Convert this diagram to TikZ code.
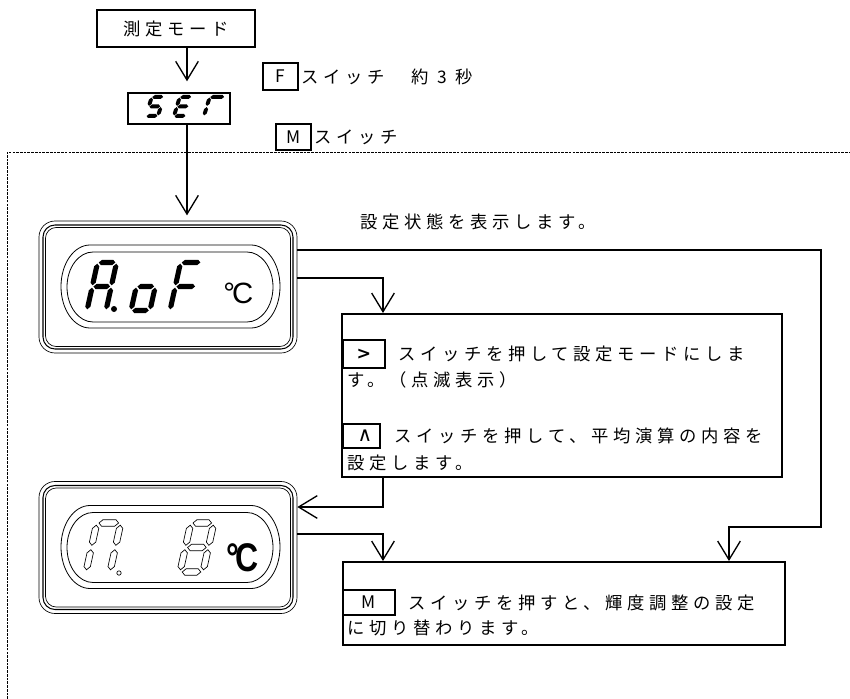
\documentclass[tikz,border=0pt]{standalone}
\usepackage{fontspec}
\setmainfont{Liberation Sans}
\newfontfamily\jpfont[LetterSpace=27]{Noto Sans CJK JP}
\newfontfamily\symfont{DejaVu Sans}
\usetikzlibrary{positioning,arrows.meta}

\tikzstyle{box}=[draw, rectangle, line width=1.5pt, inner sep=0pt]
\tikzstyle{modebox}=[box, line width=1.2pt, minimum width=118.5pt, minimum height=27.75pt]
\tikzstyle{selbox}=[box, line width=1.6pt, minimum width=76.5pt, minimum height=23.25pt]
\tikzstyle{keybox}=[box, line width=1.4pt, minimum width=26.25pt, minimum height=20pt, font=\jpfont\fontsize{13pt}{15pt}\selectfont]
\tikzstyle{textbox}=[box, line width=1.5pt, minimum width=330pt]
\tikzstyle{lcd}=[draw, rectangle, line width=0.5pt, rounded corners=12pt, minimum width=193.5pt, minimum height=99pt]
\tikzstyle{jtext}=[inner sep=0pt, anchor=west, font=\jpfont\fontsize{13pt}{15pt}\selectfont]
\tikzstyle{arr}=[line width=1pt, -{Straight Barb[length=14pt,width=17pt]}]
\tikzstyle{dashline}=[line width=0.5pt, dash pattern=on 2pt off 0.8pt]

% seven segment pieces (local cell: origin bottom left, y up is negative)
\newcommand{\hseg}[3]{\path[segpaint] ({#1},{#3}) -- ({#1+\sgt},{#3-\sgt}) -- ({#2-\sgt},{#3-\sgt}) -- ({#2},{#3}) -- ({#2-\sgt},{#3+\sgt}) -- ({#1+\sgt},{#3+\sgt}) -- cycle;}
\newcommand{\vseg}[3]{\path[segpaint] ({#1},{#2}) -- ({#1+\sgt},{#2+\sgt}) -- ({#1+\sgt},{#3-\sgt}) -- ({#1},{#3}) -- ({#1-\sgt},{#3-\sgt}) -- ({#1-\sgt},{#2+\sgt}) -- cycle;}
\newcommand{\sega}{\hseg{\sgg}{\sgw-\sgg}{-\sgh}}
\newcommand{\segb}{\vseg{\sgw}{-\sgh+\sgg}{-\sgh/2-\sgg}}
\newcommand{\segc}{\vseg{\sgw}{-\sgh/2+\sgg}{-\sgg}}
\newcommand{\segd}{\hseg{\sgg}{\sgw-\sgg}{0}}
\newcommand{\sege}{\vseg{0}{-\sgh/2+\sgg}{-\sgg}}
\newcommand{\segf}{\vseg{0}{-\sgh+\sgg}{-\sgh/2-\sgg}}
\newcommand{\segg}{\hseg{\sgg}{\sgw-\sgg}{-\sgh/2}}
\newcommand{\segglyph}[5]{%
  \begin{scope}[shift={(#1,#2)}, xslant=\sgs]
    \def\sgw{#3}\def\sgh{#4}
    #5
  \end{scope}}

% rounded window of the display
\newcommand{\stadium}[6]{\draw[line width=0.6pt] ({#1+#5},#2) -- ({#3-#5},#2) arc[start angle=-90,end angle=90,x radius=#5,y radius=#6] -- ({#1+#5},#4) arc[start angle=90,end angle=270,x radius=#5,y radius=#6] -- cycle;}
\newcommand{\lcdframe}[1]{%
  \node[lcd] (#1) at (0,0) {};
  \draw[line width=0.8pt, rounded corners=9pt] (-125,-62) rectangle (125,62);
  \draw[line width=0.5pt, rounded corners=8pt] (-122.5,-59.5) rectangle (122.5,59.5);
  \stadium{-107}{-42}{112}{41}{29}{41.5}
  \stadium{-101}{-35}{105}{35}{26}{35}}

\begin{document}
\begin{tikzpicture}[x=0.75pt, y=-0.75pt]
  \useasboundingbox (0,0) rectangle (850,699);

  %Mode and SET
  \node[modebox, font=\jpfont\fontsize{13pt}{15pt}\selectfont] (mode) at (176,28.5) {測定モード};
  \node[selbox] (sel) at (179,108.5) {};
  \def\sgs{0.3}\def\sgt{2}\def\sgg{0.6}
  \tikzset{segpaint/.style={fill=black}}
  \segglyph{146}{116}{12}{19}{\sega\segf\segg\segc\segd}
  \segglyph{174}{116}{12}{19}{\sega\segf\segg\sege\segd}
  \segglyph{204}{116}{15}{19}{\sega\segf\sege}

  %Switch labels
  \node[keybox] (fkey) at (280.5,76.5) {F};
  \node[jtext, right=1.5pt of fkey] (ftext) {スイッチ　約 3 秒};
  \node[keybox] (mkey) at (293.5,137) {M};
  \node[jtext, right=1.5pt of mkey] (mtext) {スイッチ};

  %Setting area
  \draw[dashline] (7,699) |- (850,152);
  \node[jtext] (note) at (360,222) {設定状態を表示します。};

  %Display A.oF
  \begin{scope}[shift={(168,287)}]
    \lcdframe{d1}
  \end{scope}
  \def\sgs{0.22}\def\sgt{2.6}\def\sgg{1.2}
  \segglyph{87}{310.5}{19}{48}{\sega\segb\segc\sege\segf\segg}
  \fill (114,309) circle[radius=3];
  \segglyph{131}{310.5}{19}{48}{\segc\segd\sege\segg}
  \segglyph{170}{310.5}{21}{48}{\sega\sege\segf\segg}
  \node[anchor=base west, inner sep=0pt, font=\fontsize{22pt}{22pt}\selectfont] (deg1) at (223,303) {°\kern-0.1em C};

  %Display (unlit)
  \begin{scope}[shift={(168,547.5)}]
    \lcdframe{d2}
  \end{scope}
  \def\sgt{3.2}\def\sgg{2.2}
  \tikzset{segpaint/.style={draw, line width=0.5pt}}
  \segglyph{86}{572}{24}{49}{\sega\segb\segc\sege\segf}
  \draw[line width=0.5pt] (119,573) circle[radius=2.2];
  \segglyph{180}{572}{23}{49}{\sega\segb\segc\segd\sege\segf\segg}
  \node[anchor=base west, inner sep=0pt, font=\bfseries\fontsize{30pt}{30pt}\selectfont] (deg2) at (226,571) {\scalebox{0.8}[1]{°\kern-0.12em C}};

  %Text boxes
  \node[textbox, minimum height=122.25pt] (boxA) at (562,395.5) {};
  \node[keybox, minimum width=31.5pt, minimum height=21pt, font=\symfont\bfseries\fontsize{13pt}{13pt}\selectfont] (kright) at (364,354) {>};
  \node[jtext, right=9pt of kright] (ta1) {スイッチを押して設定モードにしま};
  \node[jtext] (ta2) at (347,380) {す。（点滅表示）};
  \node[keybox, minimum width=27.75pt, minimum height=18pt, font=\symfont\fontsize{15pt}{15pt}\selectfont] (kup) at (361.5,436) {\hspace*{5pt}∧};
  \node[jtext, right=10pt of kup] (ta3) {スイッチを押して、平均演算の内容を};
  \node[jtext] (ta4) at (347,463) {設定します。};

  \node[textbox, minimum width=331.5pt, minimum height=62.25pt] (boxB) at (564,603.5) {};
  \node[keybox, minimum width=39pt, minimum height=18.75pt] (kmode) at (369,602.5) {M};
  \node[jtext, right=9pt of kmode] (tb1) {スイッチを押すと、輝度調整の設定};
  \node[jtext] (tb2) at (347,628) {に切り替わります。};

  %Connectors
  \coordinate (loopr) at (821,527);
  \draw[arr, shorten >=8pt] (mode.south -| 187,0) -- (sel.north -| 187,0);
  \draw[arr, shorten >=4pt] (sel.south -| 187,0) -- (d1.north -| 187,0);
  \draw[arr] (d1.east |- 0,250) -| (loopr) -| (boxB.north -| 729,0);
  \draw[arr] (d1.east |- 0,278) -| (boxA.north -| 383,0);
  \draw[arr] (boxA.south -| 383,0) |- (d2.east |- 0,507);
  \draw[arr] (d2.east |- 0,534) -| (boxB.north -| 383,0);
\end{tikzpicture}
\end{document}
